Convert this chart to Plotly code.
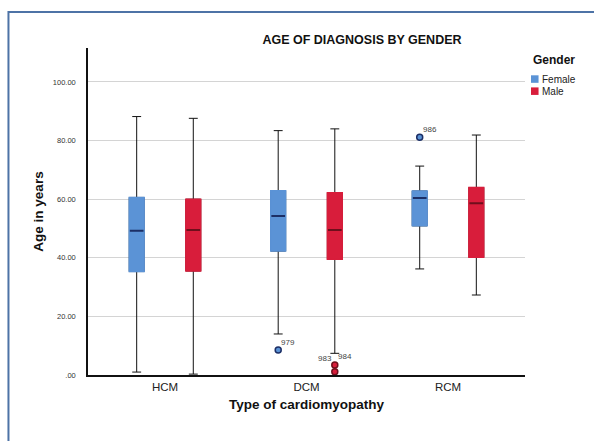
import plotly.graph_objects as go

# ---- data ----
categories = ["HCM", "DCM", "RCM"]
genders = ["Female", "Male"]

female_lower = [1.0, 14.0, 36.2]
female_q1 = [35.3, 42.3, 50.9]
female_median = [49.2, 54.3, 60.4]
female_q3 = [60.6, 62.9, 62.8]
female_upper = [88.2, 83.4, 71.3]

male_lower = [0.3, 7.4, 27.3]
male_q1 = [35.5, 39.5, 40.2]
male_median = [49.5, 49.5, 58.6]
male_q3 = [60.0, 62.2, 64.0]
male_upper = [87.6, 84.0, 81.9]

female_out_cat = ["DCM", "RCM"]
female_out_val = [8.5, 81.1]
female_out_id = ["979", "986"]

male_out_cat = ["DCM", "DCM"]
male_out_val = [1.1, 3.4]
male_out_id = ["983", "984"]

ytick_vals = [0, 20, 40, 60, 80, 100]
ytick_text = [".00", "20.00", "40.00", "60.00", "80.00", "100.00"]

# ---- style ----
FEMALE_FILL = "#5b93d6"
MALE_FILL = "#d81d3b"
FEMALE_MED = "#1c2f66"
MALE_MED = "#6e0f1c"
FONT = "Liberation Sans, Arial, sans-serif"
OFFSET = 0.2
BOXW = 0.105

idx = {c: i for i, c in enumerate(categories)}

fig = go.Figure()

series = [
    (-OFFSET, female_lower, female_q1, female_median, female_q3, female_upper, FEMALE_FILL, FEMALE_MED),
    (OFFSET, male_lower, male_q1, male_median, male_q3, male_upper, MALE_FILL, MALE_MED),
]

for off, lo, q1, med, q3, up, fill, medc in series:
    xs = [idx[c] + off for c in categories]
    # whiskers
    fig.add_trace(go.Box(x=xs, q1=q1, median=med, q3=q3, lowerfence=lo, upperfence=up,
                         width=BOXW, whiskerwidth=0.6, fillcolor="rgba(0,0,0,0)",
                         line=dict(color="#111111", width=1), showlegend=False,
                         hoverinfo="skip"))
    # body
    fig.add_trace(go.Box(x=xs, q1=q1, median=med, q3=q3, lowerfence=q1, upperfence=q3,
                         width=BOXW, whiskerwidth=0, fillcolor=fill,
                         line=dict(color=fill, width=1.5), showlegend=False,
                         hoverinfo="skip"))
    # median
    fig.add_trace(go.Box(x=xs, q1=med, median=med, q3=med, lowerfence=med, upperfence=med,
                         width=BOXW * 0.92, whiskerwidth=0, fillcolor=medc,
                         line=dict(color=medc, width=2), showlegend=False,
                         hoverinfo="skip"))

# outliers
fig.add_trace(go.Scatter(x=[idx[c] - OFFSET for c in female_out_cat], y=female_out_val,
                         mode="markers",
                         marker=dict(size=6, color=FEMALE_FILL, line=dict(color=FEMALE_MED, width=1.5)),
                         showlegend=False, hoverinfo="skip"))
fig.add_trace(go.Scatter(x=[idx[c] + OFFSET for c in male_out_cat], y=male_out_val,
                         mode="markers",
                         marker=dict(size=6, color=MALE_FILL, line=dict(color=MALE_MED, width=1.5)),
                         showlegend=False, hoverinfo="skip"))

annotations = []
for c, v, t in zip(female_out_cat, female_out_val, female_out_id):
    annotations.append(dict(x=idx[c] - OFFSET, y=v, text=t, showarrow=False,
                            xanchor="left", yanchor="bottom", xshift=1, yshift=1,
                            font=dict(family=FONT, size=8, color="#444444")))
male_shift = {"983": ("right", -1, 7), "984": ("left", 1, 2)}
for c, v, t in zip(male_out_cat, male_out_val, male_out_id):
    xa, xs_, ys_ = male_shift[t]
    annotations.append(dict(x=idx[c] + OFFSET, y=v, text=t, showarrow=False,
                            xanchor=xa, yanchor="bottom", xshift=xs_, yshift=ys_,
                            font=dict(family=FONT, size=8, color="#444444")))

# legend (manual)
annotations.append(dict(xref="paper", yref="paper", x=1.014, y=0.962, text="<b>Gender</b>",
                        showarrow=False, xanchor="left", yanchor="middle",
                        font=dict(family=FONT, size=12, color="#111111")))
shapes = []
legend_y = [0.905, 0.868]
for g, col, ly in zip(genders, [FEMALE_FILL, MALE_FILL], legend_y):
    shapes.append(dict(type="rect", xref="paper", yref="paper",
                       x0=1.0137, x1=1.031, y0=ly - 0.0115, y1=ly + 0.0115,
                       fillcolor=col, line=dict(width=0)))
    annotations.append(dict(xref="paper", yref="paper", x=1.034, y=ly, text=g,
                            showarrow=False, xanchor="left", yanchor="middle",
                            font=dict(family=FONT, size=10, color="#222222")))

# outer frame
shapes.append(dict(type="rect", xref="paper", yref="paper",
                   x0=-0.182, x1=1.4, y0=-0.4, y1=1.110,
                   line=dict(color="#4d73a6", width=2), fillcolor="rgba(0,0,0,0)",
                   layer="below"))

fig.update_layout(
    width=594, height=441,
    margin=dict(l=88, r=69, t=48, b=66),
    paper_bgcolor="white", plot_bgcolor="white",
    boxmode="overlay",
    showlegend=False,
    title=dict(text="<b>AGE OF DIAGNOSIS BY GENDER</b>", xref="paper", x=0.627,
               xanchor="center", yref="container", y=1 - 40 / 441, yanchor="middle",
               font=dict(family=FONT, size=12.5, color="#111111")),
    xaxis=dict(range=[-0.544, 2.544], tickvals=list(range(len(categories))),
               ticktext=categories, showgrid=False, zeroline=False,
               showline=True, linecolor="#111111", linewidth=1.5, ticks="",
               tickfont=dict(family=FONT, size=11.5, color="#222222"),
               title=dict(text="<b>Type of cardiomyopathy</b>", standoff=8,
                          font=dict(family=FONT, size=13.5, color="#111111"))),
    yaxis=dict(range=[0, 111.6], tickvals=ytick_vals, ticktext=ytick_text,
               showgrid=True, gridcolor="#d4d4d4", gridwidth=1, zeroline=False,
               showline=True, linecolor="#111111", linewidth=1.5, ticks="",
               ticklabelstandoff=9,
               tickfont=dict(family=FONT, size=7.5, color="#333333"),
               title=dict(text="<b>Age in years</b>", standoff=6,
                          font=dict(family=FONT, size=13.5, color="#111111"))),
    annotations=annotations,
    shapes=shapes,
)

fig.write_html("out.html")
